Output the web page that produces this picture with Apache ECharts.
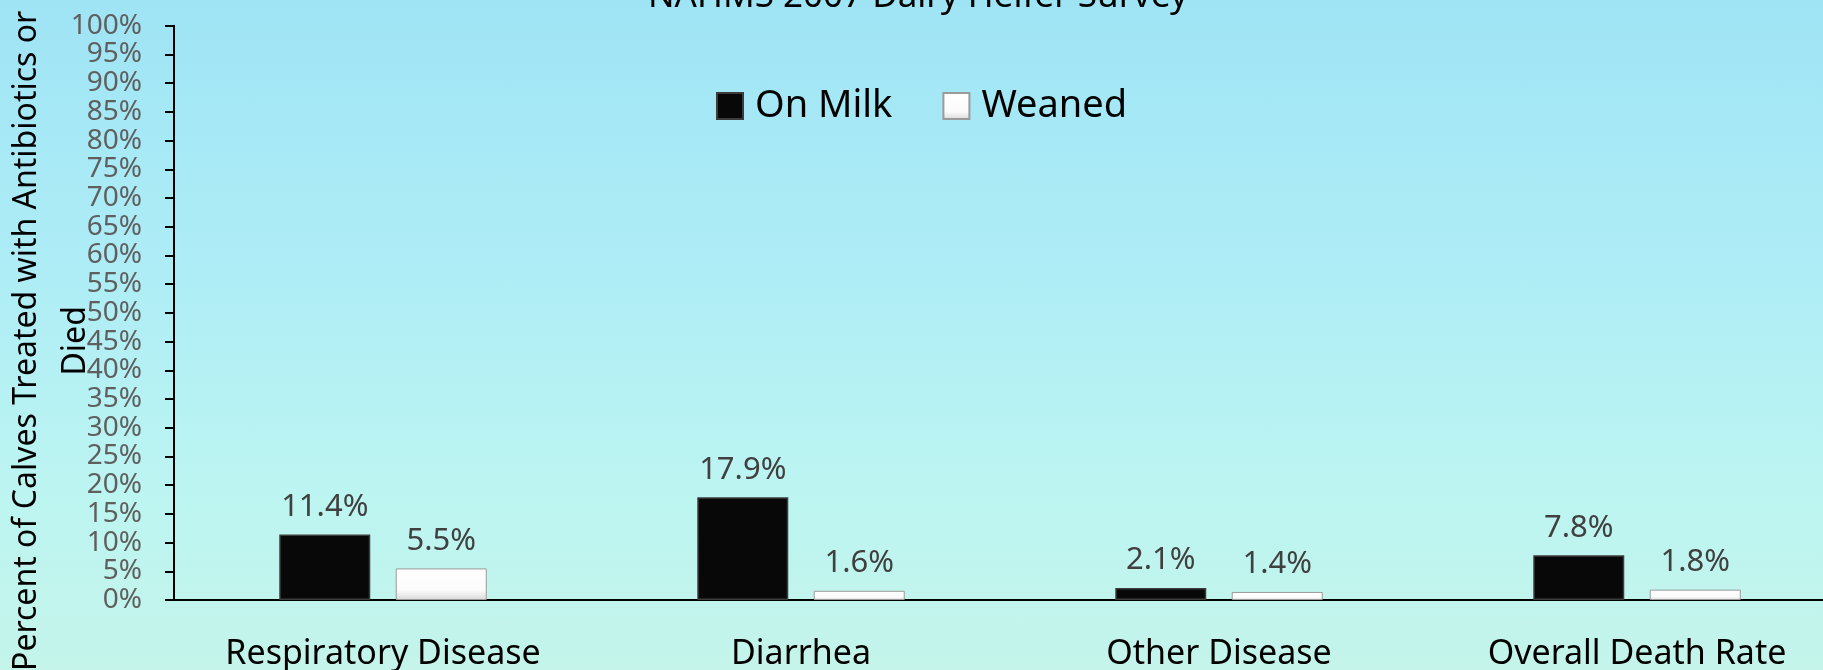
<!DOCTYPE html>
<html>
<head>
<meta charset="utf-8">
<style>
  html, body { margin: 0; padding: 0; }
  #chart { width: 1823px; height: 670px;
    background: linear-gradient(180deg, #9fe4f5 0%, #aeedf6 40%, #bdf5f1 75%, #c4f4ea 100%); }
</style>
<script src="https://cdn.jsdelivr.net/npm/echarts@6/dist/echarts.min.js"></script>
</head>
<body>
<div id="chart"></div>
<script>
// Calf health outcomes by stage, NAHMS 2007 Dairy Heifer Survey (percent of calves)
const categories = ['Respiratory Disease', 'Diarrhea', 'Other Disease', 'Overall Death Rate'];
const onMilk = [11.4, 17.9, 2.1, 7.8];
const weaned = [5.5, 1.6, 1.4, 1.8];
const seriesNames = ['On Milk', 'Weaned'];
const yTicks = { min: 0, max: 100, step: 5 };

const FONT = '"Noto Sans", "Open Sans", sans-serif';
const chart = echarts.init(document.getElementById('chart'), null, { renderer: 'canvas' });

chart.setOption({
  backgroundColor: 'transparent',
  textStyle: { fontFamily: FONT },
  title: {
    text: 'NAHMS 2007 Dairy Heifer Survey',
    left: 643,
    top: -25,
    textStyle: { fontFamily: FONT, fontSize: 35, fontWeight: 'normal', color: '#000' }
  },
  legend: {
    data: seriesNames,
    left: 711,
    top: 81,
    icon: 'rect',
    itemWidth: 26,
    itemHeight: 26,
    itemGap: 50,
    textStyle: { fontFamily: FONT, fontSize: 38, color: '#000', lineHeight: 40, padding: [0, 0, 0, 7] }
  },
  grid: { left: 174, right: -23, top: 25.7, bottom: 70, containLabel: false, outerBoundsMode: 'none' },
  xAxis: {
    type: 'category',
    data: categories,
    axisLine: { lineStyle: { color: '#000', width: 2 } },
    axisTick: { show: false },
    axisLabel: { fontFamily: FONT, fontSize: 34, color: '#000', margin: 37, lineHeight: 34 }
  },
  yAxis: {
    type: 'value',
    min: yTicks.min,
    max: yTicks.max,
    interval: yTicks.step,
    name: 'Percent of Calves Treated with Antibiotics or\nDied',
    nameLocation: 'middle',
    nameRotate: 90,
    nameGap: 74,
    nameMoveOverlap: false,
    nameTextStyle: { fontFamily: FONT, fontSize: 32, color: '#000', lineHeight: 49, padding: [0, 56, 0, 0] },
    splitLine: { show: false },
    axisLine: { show: true, lineStyle: { color: '#000', width: 2 } },
    axisTick: { show: true, inside: false, length: 9, lineStyle: { color: '#000', width: 2 } },
    axisLabel: {
      fontFamily: FONT, fontSize: 28, color: '#5f5f5f', margin: 32, lineHeight: 28,
      formatter: '{value}%', showMinLabel: true, showMaxLabel: true, hideOverlap: false
    }
  },
  series: [
    {
      name: seriesNames[0],
      type: 'bar',
      data: onMilk,
      barWidth: 91,
      barGap: '28%',
      itemStyle: { color: '#080808', borderColor: '#3c3c3c', borderWidth: 1.5 },
      label: {
        show: true, position: 'top', distance: 12,
        formatter: p => p.value.toFixed(1) + '%',
        fontFamily: FONT, fontSize: 31, color: '#404040', lineHeight: 31
      }
    },
    {
      name: seriesNames[1],
      type: 'bar',
      data: weaned,
      barWidth: 91,
      itemStyle: {
        color: new echarts.graphic.LinearGradient(0, 0, 0, 1, [
          { offset: 0, color: '#ffffff' },
          { offset: 0.7, color: '#fbfbfb' },
          { offset: 1, color: '#d8d8d8' }
        ]),
        borderColor: '#9a9a9a', borderWidth: 1
      },
      label: {
        show: true, position: 'top', distance: 12,
        formatter: p => p.value.toFixed(1) + '%',
        fontFamily: FONT, fontSize: 31, color: '#404040', lineHeight: 31
      }
    }
  ]
});
</script>
</body>
</html>
